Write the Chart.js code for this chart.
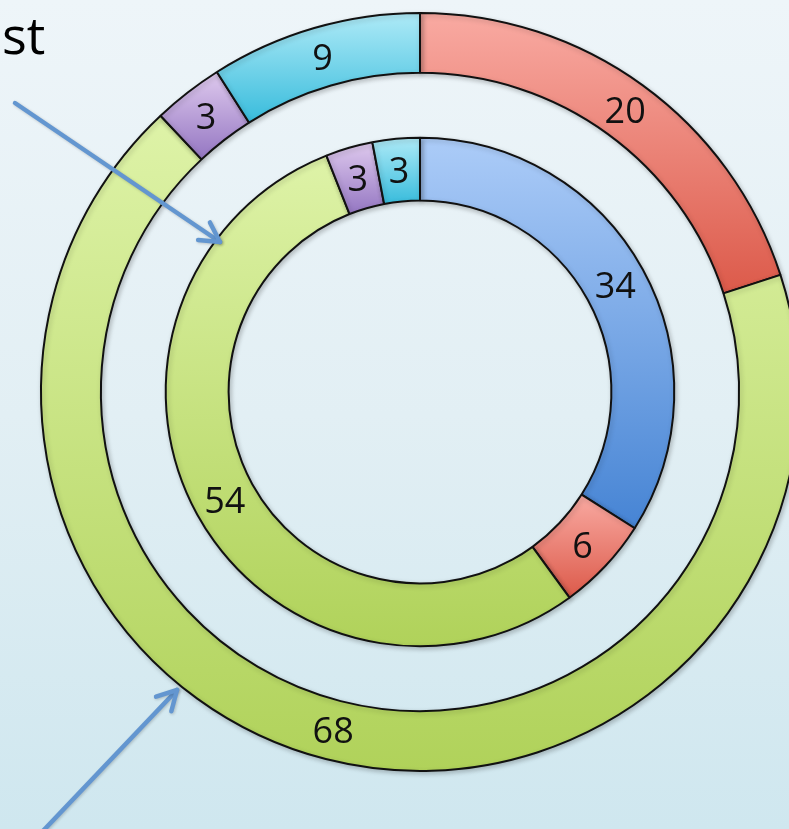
<!DOCTYPE html>
<html>
<head>
<meta charset="utf-8">
<script src="https://cdn.jsdelivr.net/npm/chart.js@4/dist/chart.umd.min.js"></script>
<style>
  html, body { margin: 0; padding: 0; width: 789px; height: 829px; overflow: hidden; }
  body { background: linear-gradient(to bottom, #eef5f9 0%, #e2eff4 50%, #cfe7ef 100%); position: relative; font-family: "Open Sans", sans-serif; }
  #wrap { position: absolute; left: 0; top: 0; width: 840px; height: 829px; }
  #title { position: absolute; left: 2px; top: 8px; font-size: 52px; color: #000; line-height: 1; }
</style>
</head>
<body>
<div id="title">st</div>
<div id="wrap"><canvas id="rings"></canvas></div>
<script>
// outer ring, clockwise from 12 o'clock
const outerLabels = ['Red', 'Green', 'Purple', 'Cyan'];
const outerValues = [20, 68, 3, 9];
// inner ring, clockwise from 12 o'clock
const innerLabels = ['Blue', 'Red', 'Green', 'Purple', 'Cyan'];
const innerValues = [34, 6, 54, 3, 3];

// light top / dark bottom for each colour
const shades = {
    Red: ['#f9aaa2', '#dc5a4a'],
    Green: ['#def3a8', '#b0d25a'],
    Purple: ['#dfcaee', '#9476c2'],
    Cyan: ['#aeeaf7', '#38bcdc'],
    Blue: ['#acccf8', '#4684d4']
};

// vertical gradient fitted to each arc's own height
const arcGradient = {
    id: 'arcGradient',
    beforeDatasetsDraw(chart) {
        const ctx = chart.ctx;
        chart.data.datasets.forEach((ds, di) => {
            if (!ds.names) return;
            chart.getDatasetMeta(di).data.forEach((arc, i) => {
                const p = arc.getProps(['x', 'y', 'startAngle', 'endAngle', 'innerRadius', 'outerRadius']);
                let top = Infinity, bottom = -Infinity;
                for (let k = 0; k <= 40; k++) {
                    const a = p.startAngle + (p.endAngle - p.startAngle) * k / 40;
                    [p.innerRadius, p.outerRadius].forEach(r => {
                        const y = p.y + r * Math.sin(a);
                        top = Math.min(top, y);
                        bottom = Math.max(bottom, y);
                    });
                }
                const c = shades[ds.names[i]];
                const g = ctx.createLinearGradient(0, top, 0, bottom);
                g.addColorStop(0, c[0]);
                g.addColorStop(1, c[1]);
                // options can be shared between arcs, so give each its own copy
                arc.options = Object.assign({}, arc.options, { backgroundColor: g });
            });
        });
    }
};

// soft drop shadow under the rings
const ringShadow = {
    id: 'ringShadow',
    beforeDatasetDraw(chart) {
        const ctx = chart.ctx;
        ctx.save();
        ctx.shadowColor = 'rgba(0,0,0,0.22)';
        ctx.shadowBlur = 5;
        ctx.shadowOffsetX = 1.5;
        ctx.shadowOffsetY = 2;
    },
    afterDatasetDraw(chart) {
        chart.ctx.restore();
    }
};

// value in the middle of each segment
const arcValues = {
    id: 'arcValues',
    afterDatasetsDraw(chart) {
        const ctx = chart.ctx;
        ctx.save();
        ctx.fillStyle = '#111';
        ctx.font = '36px "Open Sans", sans-serif';
        ctx.textAlign = 'center';
        ctx.textBaseline = 'middle';
        chart.data.datasets.forEach((ds, di) => {
            if (!ds.names) return;
            chart.getDatasetMeta(di).data.forEach((arc, i) => {
                const pos = arc.tooltipPosition();
                ctx.fillText(String(ds.data[i]), pos.x, pos.y + 3);
            });
        });
        ctx.restore();
    }
};

// the two pointer arrows
const pointers = {
    id: 'pointers',
    afterDraw(chart) {
        const ctx = chart.ctx;
        const arrow = (x1, y1, x2, y2) => {
            const ang = Math.atan2(y2 - y1, x2 - x1);
            ctx.beginPath();
            ctx.moveTo(x1, y1);
            ctx.lineTo(x2, y2);
            ctx.stroke();
            ctx.beginPath();
            ctx.moveTo(x2 - 22 * Math.cos(ang - 0.5), y2 - 22 * Math.sin(ang - 0.5));
            ctx.lineTo(x2, y2);
            ctx.lineTo(x2 - 22 * Math.cos(ang + 0.5), y2 - 22 * Math.sin(ang + 0.5));
            ctx.stroke();
        };
        ctx.save();
        ctx.strokeStyle = '#6396d0';
        ctx.lineWidth = 4.5;
        ctx.lineCap = 'round';
        ctx.lineJoin = 'round';
        ctx.shadowColor = 'rgba(0,0,0,0.2)';
        ctx.shadowBlur = 3;
        ctx.shadowOffsetX = 1;
        ctx.shadowOffsetY = 1;
        arrow(15, 103, 220, 242);
        arrow(42, 832, 177, 690);
        ctx.restore();
    }
};

new Chart(document.getElementById('rings'), {
    type: 'doughnut',
    data: {
        datasets: [
            {
                names: outerLabels,
                data: outerValues,
                backgroundColor: outerLabels.map(n => shades[n][1]),
                borderColor: '#111',
                borderWidth: 2,
                weight: 60
            },
            {
                // empty band between the two rings
                data: [1],
                backgroundColor: 'rgba(0,0,0,0)',
                borderWidth: 0,
                weight: 65
            },
            {
                names: innerLabels,
                data: innerValues,
                backgroundColor: innerLabels.map(n => shades[n][1]),
                borderColor: '#111',
                borderWidth: 2,
                weight: 63
            }
        ]
    },
    options: {
        responsive: true,
        maintainAspectRatio: false,
        animation: false,
        cutout: '50.5%',
        layout: { padding: { left: 40, right: 40, top: 12, bottom: 57 } },
        plugins: { legend: { display: false }, tooltip: { enabled: false } },
        events: []
    },
    plugins: [arcGradient, ringShadow, arcValues, pointers]
});
</script>
</body>
</html>
